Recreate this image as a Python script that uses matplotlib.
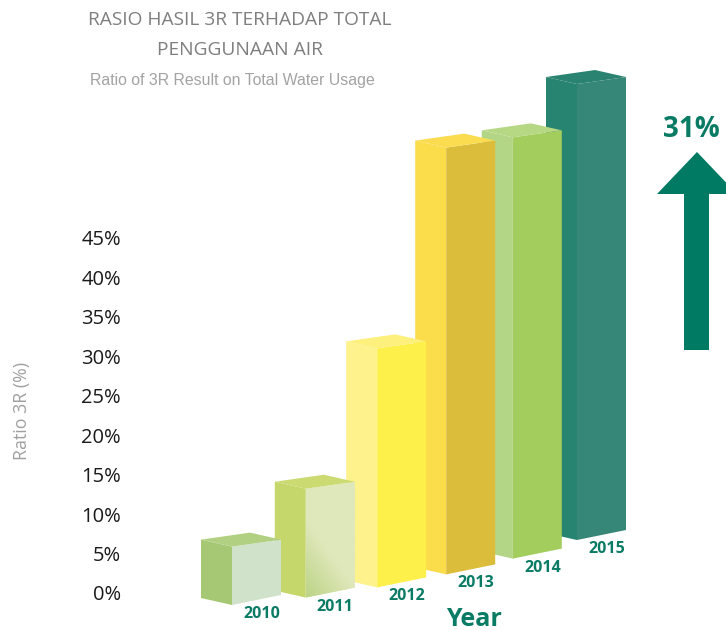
import matplotlib
matplotlib.use("Agg")
import matplotlib.pyplot as plt
import numpy as np
from matplotlib.patches import Polygon

# ---------------- data ----------------
years = ["2010", "2011", "2012", "2013", "2014", "2015"]
ratio_pct = [7.4, 13.8, 30.3, 54.1, 53.4, 57.8]          # bar heights read against the % axis
ytick_values = [0, 5, 10, 15, 20, 25, 30, 35, 40, 45]
ytick_labels = [f"{v}%" for v in ytick_values]
title_line1 = "RASIO HASIL 3R TERHADAP TOTAL"
title_line2 = "PENGGUNAAN AIR"
subtitle = "Ratio of 3R Result on Total Water Usage"
ylabel = "Ratio 3R (%)"
xlabel = "Year"
increase_label = "31%"

# ---------------- styles ----------------
side_colors = ["#a6c874", "#c5d66b", "#fdf28c", "#fbdd4c", "#b3d586", "#268470"]
front_colors = ["#d0e3ca", "#dfe8bb", "#fef04b", "#dbbd3b", "#a3cd5d", "#368777"]
top_colors = ["#b2d081", "#cbdb72", "#fdf07c", "#fbdc50", "#b6d885", "#2a8370"]
teal = "#0a7b64"
arrow_color = "#007a62"

W, H = 726, 630
fig = plt.figure(figsize=(W / 100, H / 100), dpi=100)
ax = fig.add_axes([0, 0, 1, 1])
PX = (593 - 238) / 45.0          # pixels per percent on the value axis
ax.set_xlim(0, W)
ax.set_ylim((593 - H) / PX, 593 / PX)
ax.patch.set_alpha(0)
for s in ["top", "right", "bottom"]:
    ax.spines[s].set_visible(False)
ax.spines["left"].set_position(("data", 121))
ax.spines["left"].set_visible(False)
ax.set_xticks([])
ax.set_yticks(ytick_values)
ax.set_yticklabels(ytick_labels, fontsize=14.5, family="Open Sans", color="#1a1a1a")
ax.tick_params(axis="y", length=0, pad=0)

# perspective layout (pixel offsets converted to value units)
side_dx, side_dy_top, side_dy_bot = 31, 7, 7
front_w, front_dy_top, front_dy_bot = 49, -7, -10

def to_v(px):
    return px / PX

n = len(years)
for i in reversed(range(n)):
    v = ratio_pct[i]
    # base (front-bottom-left corner) follows a perspective curve
    bx = 232 + 75 * i - 1.2 * i ** 2
    by_px = 605 - 6 * i - 1.4 * i ** 2
    b = (593 - by_px) / PX
    t = b + v
    F_b = (bx, b)
    F_t = (bx, t)
    R_b = (bx + front_w, b - to_v(front_dy_bot))
    R_t = (bx + front_w, t - to_v(front_dy_top))
    L_b = (bx - side_dx, b + to_v(side_dy_bot))
    L_t = (bx - side_dx, t + to_v(side_dy_top))
    Bk = (L_t[0] + front_w, L_t[1] - to_v(front_dy_top))
    z = 10 - i
    ax.add_patch(Polygon([L_b, L_t, F_t, F_b], closed=True, fc=side_colors[i], ec="none", zorder=z))
    front = Polygon([F_b, F_t, R_t, R_b], closed=True, fc=front_colors[i], ec="none", zorder=z)
    ax.add_patch(front)
    ax.add_patch(Polygon([L_t, Bk, R_t, F_t], closed=True, fc=top_colors[i], ec="none", zorder=z))
    if i == 1:
        # soft shading on the lower-left of the 2011 front face
        gx, gy = np.meshgrid(np.linspace(0, 1, 60), np.linspace(0, 1, 120))
        s = np.clip(1.2 - (gx * 0.9 + gy * 1.6), 0, 1)
        c0 = np.array(matplotlib.colors.to_rgb("#dfe8bb"))
        c1 = np.array(matplotlib.colors.to_rgb("#bdd487"))
        img = c0[None, None, :] * (1 - s[..., None]) + c1[None, None, :] * s[..., None]
        im = ax.imshow(img, extent=(bx, bx + front_w, b - to_v(12), t), origin="lower",
                       aspect="auto", zorder=z + 0.1, interpolation="bilinear")
        im.set_clip_path(front)
    # year label under the front face
    ax.text(bx + front_w / 2 + 5, b - to_v(9), years[i],
            ha="center", va="center", fontsize=11.5, fontweight="bold",
            family="Open Sans", color=teal, zorder=20)

# titles
fig.text(240 / W, 1 - 20 / H, title_line1, ha="center", va="center", fontsize=13.8,
         family="Open Sans", color="#7f7f7f")
fig.text(240 / W, 1 - 50 / H, title_line2, ha="center", va="center", fontsize=13.8,
         family="Open Sans", color="#7f7f7f")
fig.text(232 / W, 1 - 80 / H, subtitle, ha="center", va="center", fontsize=11.4,
         family="Liberation Sans", color="#a3a3a3")
fig.text(22 / W, 1 - 411 / H, ylabel, ha="center", va="center", rotation=90,
         fontsize=12.8, family="Open Sans", color="#a0a0a0")
fig.text(474 / W, 1 - 619 / H, xlabel, ha="center", va="center", fontsize=18,
         fontweight="bold", family="Open Sans", color=teal)
fig.text(691 / W, 1 - 130 / H, increase_label, ha="center", va="center", fontsize=20,
         fontweight="bold", family="Open Sans", color=teal)

# up arrow decoration
deco = fig.add_axes([0, 0, 1, 1], zorder=-1)
deco.set_xlim(0, W)
deco.set_ylim(H, 0)
deco.axis("off")
deco.add_patch(Polygon([(697, 152), (737, 194), (709, 194), (709, 350), (684, 350),
                        (684, 194), (657, 194)], closed=True, fc=arrow_color, ec="none"))

fig.savefig("out.png", dpi=100)
